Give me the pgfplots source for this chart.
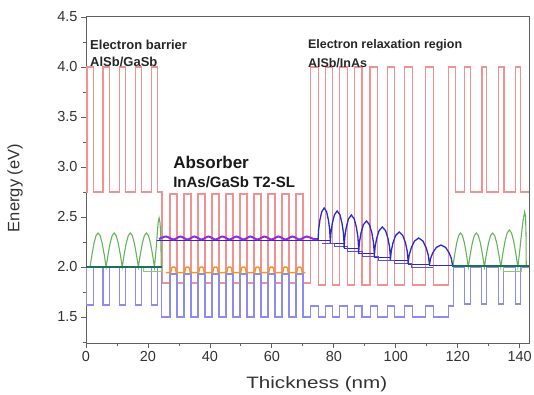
\documentclass[border=0pt]{standalone}
\usepackage{fontspec}
\setmainfont{Liberation Sans}
\usepackage{graphicx}
\usepackage{pgfplots}
\pgfplotsset{compat=1.18}
\definecolor{cbred}{RGB}{242,145,145}
\definecolor{vbblue}{RGB}{140,140,238}
\definecolor{wgreen}{RGB}{100,180,90}
\definecolor{lgreen}{RGB}{140,200,120}
\definecolor{teal2}{RGB}{30,110,90}
\definecolor{dblue}{RGB}{40,40,215}
\definecolor{purp}{RGB}{145,45,220}
\definecolor{orng}{RGB}{240,150,40}
\definecolor{axisgray}{RGB}{95,95,95}
\definecolor{labelgray}{RGB}{50,50,50}
\begin{document}
\begin{tikzpicture}
\useasboundingbox (0,0) rectangle (534pt,394pt);
\begin{axis}[
  at={(86pt,51pt)}, anchor=south west,
  width=443pt, height=327pt, scale only axis,
  xmin=0, xmax=143, ymin=1.24, ymax=4.51,
  xtick={0,20,40,60,80,100,120,140},
  minor xtick={10,30,50,70,90,110,130},
  ytick={1.5,2,2.5,3,3.5,4,4.5},
  minor ytick={1.25,1.75,2.25,2.75,3.25,3.75,4.25},
  tick align=outside, xtick pos=left, ytick pos=left,
  major tick length=5pt, minor tick length=3pt,
  axis line style={draw=axisgray, line width=0.8pt},
  every tick/.style={draw=axisgray, line width=0.8pt},
  tick label style={font=\fontsize{14.5}{15}\selectfont, text=labelgray},
  /pgf/number format/assume math mode=true,
  yticklabel style={/pgf/number format/.cd, fixed, fixed zerofill, precision=1},
  xlabel={\scalebox{1.25}[1]{Thickness (nm)}},
  ylabel={Energy (eV)},
  xlabel style={at={(axis description cs:0.521,-0.125)}, anchor=center, font=\fontsize{16.5}{18}\selectfont, text=labelgray},
  ylabel style={at={(axis description cs:-0.16,0.474)}, anchor=center, font=\fontsize{16.5}{18}\selectfont, text=labelgray},
  no markers,
]
% conduction band (red)
\addplot[cbred, line width=1.2pt] coordinates {
(0,2.75)(0.3,2.75)(0.3,4)(2.3,4)(2.3,2.75)
(5.5,2.75)(5.5,4)(7.5,4)(7.5,2.75)
(10.7,2.75)(10.7,4)(12.7,4)(12.7,2.75)
(15.9,2.75)(15.9,4)(17.9,4)(17.9,2.75)
(21.1,2.75)(21.1,4)(23.1,4)(23.1,2.75)
(24.5,2.75)(24.5,1.84)
(27.10,1.84)(27.10,2.73)(29.36,2.73)(29.36,1.84)
(31.62,1.84)(31.62,2.73)(33.88,2.73)(33.88,1.84)
(36.14,1.84)(36.14,2.73)(38.40,2.73)(38.40,1.84)
(40.66,1.84)(40.66,2.73)(42.92,2.73)(42.92,1.84)
(45.18,1.84)(45.18,2.73)(47.44,2.73)(47.44,1.84)
(49.70,1.84)(49.70,2.73)(51.96,2.73)(51.96,1.84)
(54.22,1.84)(54.22,2.73)(56.48,2.73)(56.48,1.84)
(58.74,1.84)(58.74,2.73)(61.00,2.73)(61.00,1.84)
(63.26,1.84)(63.26,2.73)(65.52,2.73)(65.52,1.84)
(67.78,1.84)(67.78,2.73)(70.04,2.73)(70.04,1.84)
(72.5,1.84)(72.5,4)(75.0,4)(75.0,1.82)
(77.2,1.82)(77.2,4)(79.6,4)(79.6,1.82)
(81.9,1.82)(81.9,4)(84.3,4)(84.3,1.82)
(86.7,1.82)(86.7,4)(89.1,4)(89.1,1.82)
(91.7,1.82)(91.7,4)(94.1,4)(94.1,1.82)
(97.2,1.82)(97.2,4)(99.6,4)(99.6,1.82)
(102.9,1.82)(102.9,4)(105.3,4)(105.3,1.82)
(109.7,1.82)(109.7,4)(112.1,4)(112.1,1.82)
(116.9,1.82)(116.9,4)(119.3,4)(119.3,2.75)
(122.3,2.75)(122.3,4)(124.0,4)(124.0,2.75)
(127.8,2.75)(127.8,4)(129.4,4)(129.4,2.75)
(133.2,2.75)(133.2,4)(134.9,4)(134.9,2.75)
(138.6,2.75)(138.6,4)(140.3,4)(140.3,2.75)
(143,2.75)
};
% valence band (light blue)
\addplot[vbblue, line width=1.1pt] coordinates {
(0,2)(0.3,2)(0.3,1.62)(2.3,1.62)(2.3,2)
(5.5,2)(5.5,1.62)(7.5,1.62)(7.5,2)
(10.7,2)(10.7,1.62)(12.7,1.62)(12.7,2)
(15.9,2)(15.9,1.62)(17.9,1.62)(17.9,2)
(21.1,2)(21.1,1.62)(23.1,1.62)(23.1,2)
(24.5,2)(24.5,1.5)
(27.10,1.5)(27.10,1.93)(29.36,1.93)(29.36,1.5)
(31.62,1.5)(31.62,1.93)(33.88,1.93)(33.88,1.5)
(36.14,1.5)(36.14,1.93)(38.40,1.93)(38.40,1.5)
(40.66,1.5)(40.66,1.93)(42.92,1.93)(42.92,1.5)
(45.18,1.5)(45.18,1.93)(47.44,1.93)(47.44,1.5)
(49.70,1.5)(49.70,1.93)(51.96,1.93)(51.96,1.5)
(54.22,1.5)(54.22,1.93)(56.48,1.93)(56.48,1.5)
(58.74,1.5)(58.74,1.93)(61.00,1.93)(61.00,1.5)
(63.26,1.5)(63.26,1.93)(65.52,1.93)(65.52,1.5)
(67.78,1.5)(67.78,1.93)(70.04,1.93)(70.04,1.5)
(72.5,1.5)(72.5,1.61)(75.0,1.61)(75.0,1.5)
(77.2,1.5)(77.2,1.61)(79.6,1.61)(79.6,1.5)
(81.9,1.5)(81.9,1.61)(84.3,1.61)(84.3,1.5)
(86.7,1.5)(86.7,1.61)(89.1,1.61)(89.1,1.5)
(91.7,1.5)(91.7,1.61)(94.1,1.61)(94.1,1.5)
(97.2,1.5)(97.2,1.61)(99.6,1.61)(99.6,1.5)
(102.9,1.5)(102.9,1.61)(105.3,1.61)(105.3,1.5)
(109.7,1.5)(109.7,1.61)(112.1,1.61)(112.1,1.5)
(116.9,1.5)(116.9,1.61)(118.5,1.61)(118.5,2)
(122.3,2)(122.3,1.63)(124.0,1.63)(124.0,2)
(127.8,2)(127.8,1.63)(129.4,1.63)(129.4,2)
(133.2,2)(133.2,1.63)(134.9,1.63)(134.9,2)
(138.6,2)(138.6,1.63)(140.3,1.63)(140.3,2)
(143,2)
};
% green wavefunctions, left barrier
\addplot[wgreen, line width=1.1pt] coordinates {
(0,2)(1.3,2)(1.95,2.13)(2.6,2.24)(3.25,2.314)(3.9,2.34)(4.55,2.314)(5.2,2.24)(5.85,2.13)(6.5,2)
(7.15,2.13)(7.8,2.24)(8.45,2.314)(9.1,2.34)(9.75,2.314)(10.4,2.24)(11.05,2.13)(11.7,2)
(12.35,2.13)(13.0,2.24)(13.65,2.314)(14.3,2.34)(14.95,2.314)(15.6,2.24)(16.25,2.13)(16.9,2)
(17.55,2.13)(18.2,2.24)(18.85,2.314)(19.5,2.34)(20.15,2.314)(20.8,2.24)(21.45,2.13)(22.1,2)
(22.6,2.17)(23.0,2.33)(23.3,2.45)(23.6,2.49)(23.9,2.44)(24.15,2.3)(24.3,2.0)(24.6,2.0)
};
% green wavefunctions, right barrier
\addplot[wgreen, line width=1.1pt] coordinates {
(118.4,2)(119.03,2.13)(119.65,2.24)(120.28,2.314)(120.9,2.34)(121.53,2.314)(122.15,2.24)(122.78,2.13)(123.4,2)
(124.05,2.13)(124.7,2.24)(125.35,2.314)(126.0,2.34)(126.65,2.314)(127.3,2.24)(127.95,2.13)(128.6,2)
(129.26,2.13)(129.93,2.24)(130.59,2.314)(131.25,2.34)(131.91,2.314)(132.58,2.24)(133.24,2.13)(133.9,2)
(134.59,2.142)(135.28,2.262)(135.96,2.342)(136.65,2.37)(137.34,2.342)(138.03,2.262)(138.71,2.142)(139.4,2)
(140.0,2.16)(140.6,2.34)(141.1,2.47)(141.6,2.55)(141.9,2.5)(142.05,2.3)(142.1,2.02)(143,2.0)
};
\addplot[lgreen, line width=0.8pt] coordinates {(18.5,2.0)(18.5,1.955)(24.3,1.955)(24.3,2.0)};
\addplot[lgreen, line width=0.8pt] coordinates {(134.8,2.0)(134.8,1.96)(140.6,1.96)(140.6,2.0)};
% level lines in barriers
\addplot[teal2, line width=1.2pt] coordinates {(0,2.0)(24.5,2.0)};
\addplot[teal2, line width=1.2pt] coordinates {(118.3,2.01)(143,2.01)};
% hole miniband (orange)
\addplot[orng, line width=1.5pt] coordinates {
(25.8,1.945)
(27.33,1.945)(27.63,1.99)(27.93,2.0)(28.53,2.0)(28.83,1.99)(29.13,1.945)
(31.85,1.945)(32.15,1.99)(32.45,2.0)(33.05,2.0)(33.35,1.99)(33.65,1.945)
(36.37,1.945)(36.67,1.99)(36.97,2.0)(37.57,2.0)(37.87,1.99)(38.17,1.945)
(40.89,1.945)(41.19,1.99)(41.49,2.0)(42.09,2.0)(42.39,1.99)(42.69,1.945)
(45.41,1.945)(45.71,1.99)(46.01,2.0)(46.61,2.0)(46.91,1.99)(47.21,1.945)
(49.93,1.945)(50.23,1.99)(50.53,2.0)(51.13,2.0)(51.43,1.99)(51.73,1.945)
(54.45,1.945)(54.75,1.99)(55.05,2.0)(55.65,2.0)(55.95,1.99)(56.25,1.945)
(58.97,1.945)(59.27,1.99)(59.57,2.0)(60.17,2.0)(60.47,1.99)(60.77,1.945)
(63.49,1.945)(63.79,1.99)(64.09,2.0)(64.69,2.0)(64.99,1.99)(65.29,1.945)
(68.01,1.945)(68.31,1.99)(68.61,2.0)(69.21,2.0)(69.51,1.99)(69.81,1.945)
(70.8,1.945)
};
% electron miniband level and wavefunction
\addplot[dblue, line width=1pt] coordinates {(23.0,2.262)(74.0,2.262)};
\addplot[purp, line width=2pt, smooth] coordinates {
(23.6,2.28)(25.8,2.305)(28.23,2.275)(30.49,2.305)(32.75,2.275)(35.01,2.305)(37.27,2.275)(39.53,2.305)(41.79,2.275)(44.05,2.305)(46.31,2.275)(48.57,2.305)(50.83,2.275)(53.09,2.305)(55.35,2.275)(57.61,2.305)(59.87,2.275)(62.13,2.305)(64.39,2.275)(66.65,2.305)(68.91,2.275)(71.27,2.305)(73.5,2.28)(75.0,2.28)
};
% relaxation region levels
\addplot[dblue, line width=1pt] coordinates {
(73.5,2.27)(78.85,2.27)(78.85,2.24)(83.3,2.24)(83.3,2.19)(88.0,2.19)(88.0,2.14)(93.05,2.14)(93.05,2.10)(98.25,2.10)(98.25,2.07)(103.95,2.07)(103.95,2.03)(110.85,2.03)(110.85,2.02)(118.3,2.02)
};
\addplot[dblue!80, line width=0.8pt] coordinates {
(76.1,2.235)(80.05,2.235)(80.05,2.205)(84.5,2.205)(84.5,2.155)(89.2,2.155)(89.2,2.105)(94.25,2.105)(94.25,2.065)(99.45,2.065)(99.45,2.035)(105.15,2.035)(105.15,1.995)(112.05,1.995)
};
% relaxation region wavefunctions
\addplot[dblue, line width=1.3pt] coordinates {
(74.9,2.27)(75.10,2.376)(75.49,2.468)(76.09,2.552)(76.88,2.59)(77.67,2.552)(78.26,2.468)(78.65,2.376)(78.85,2.27)
(78.85,2.24)(79.07,2.346)(79.52,2.438)(80.19,2.522)(81.08,2.56)(81.97,2.522)(82.63,2.438)(83.08,2.346)(83.3,2.24)
(83.3,2.19)(83.54,2.299)(84.01,2.395)(84.71,2.480)(85.65,2.52)(86.59,2.480)(87.30,2.395)(87.77,2.299)(88.0,2.19)
(88.0,2.14)(88.25,2.246)(88.76,2.338)(89.52,2.422)(90.53,2.46)(91.54,2.422)(92.29,2.338)(92.80,2.246)(93.05,2.14)
(93.05,2.10)(93.31,2.199)(93.83,2.286)(94.61,2.364)(95.65,2.40)(96.69,2.364)(97.47,2.286)(97.99,2.199)(98.25,2.10)
(98.25,2.07)(98.54,2.162)(99.11,2.244)(99.96,2.316)(101.10,2.35)(102.24,2.316)(103.10,2.244)(103.67,2.162)(103.95,2.07)
(103.95,2.03)(104.30,2.116)(104.99,2.191)(106.02,2.259)(107.40,2.29)(108.78,2.259)(109.82,2.191)(110.51,2.116)(110.85,2.03)
(110.85,2.02)(111.22,2.086)(111.97,2.144)(113.09,2.196)(114.58,2.22)(116.07,2.196)(117.18,2.144)(117.93,2.086)(118.3,2.02)
};
% annotations
\node[anchor=west, inner sep=0pt, font=\bfseries\fontsize{13}{14}\selectfont, text=black!85] at (axis cs:1.3,4.22) {Electron barrier};
\node[anchor=west, inner sep=0pt, font=\bfseries\fontsize{13}{14}\selectfont, text=black!85] at (axis cs:1.3,4.05) {AlSb/GaSb};
\node[anchor=west, inner sep=0pt, font=\bfseries\fontsize{12.5}{13}\selectfont, text=black!85] at (axis cs:71.6,4.22) {Electron relaxation region};
\node[anchor=west, inner sep=0pt, font=\bfseries\fontsize{12.5}{13}\selectfont, text=black!85] at (axis cs:71.6,4.04) {AlSb/InAs};
\node[anchor=west, inner sep=0pt, font=\bfseries\fontsize{17}{18}\selectfont, text=black!90] at (axis cs:28.1,3.05) {Absorber};
\node[anchor=west, inner sep=0pt, font=\bfseries\fontsize{15}{16}\selectfont, text=black!90] at (axis cs:28.1,2.85) {InAs/GaSb T2-SL};
\end{axis}
\end{tikzpicture}
\end{document}
